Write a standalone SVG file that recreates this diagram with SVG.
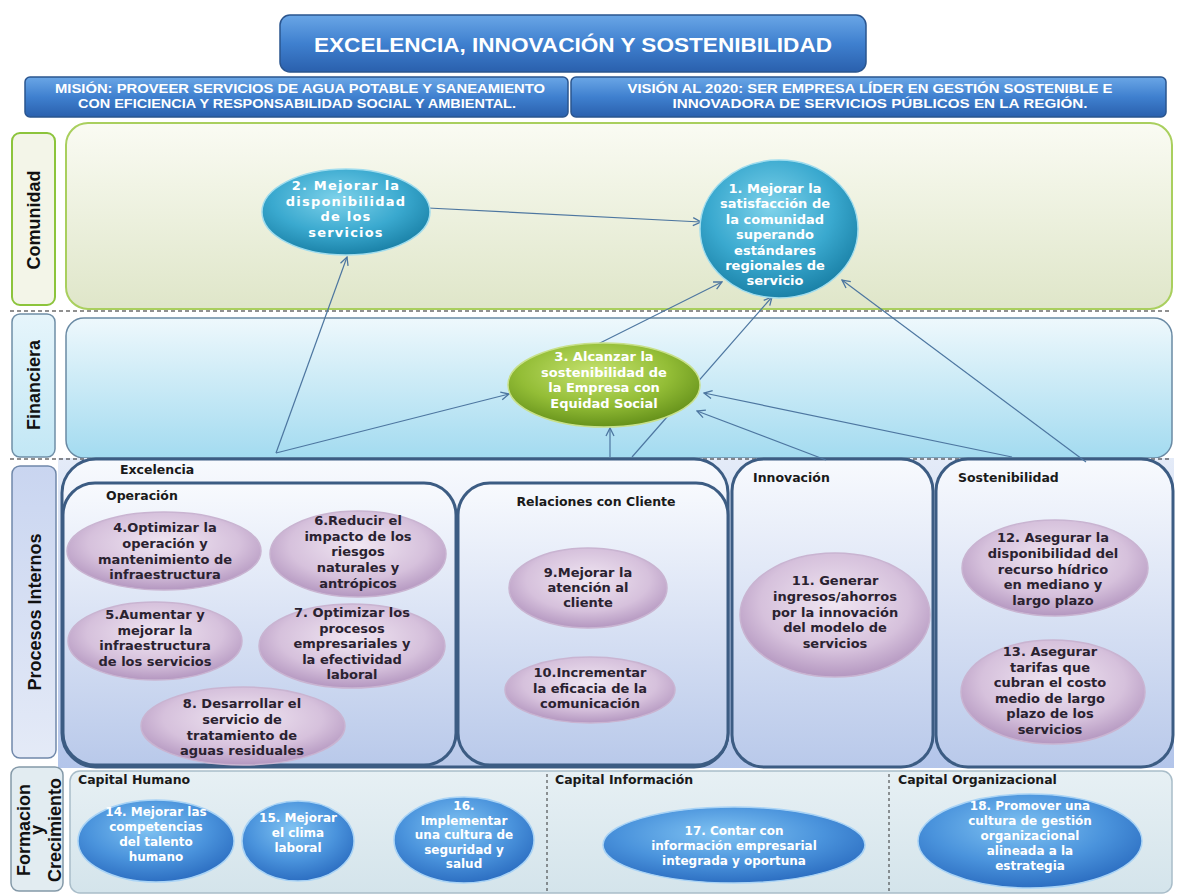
<svg xmlns="http://www.w3.org/2000/svg" width="1178" height="895" viewBox="0 0 1178 895">
  <defs>
    <linearGradient id="gHead" x1="0" y1="0" x2="0" y2="1">
      <stop offset="0" stop-color="#6aa6e6"/>
      <stop offset="0.5" stop-color="#3f80cf"/>
      <stop offset="1" stop-color="#2a60ad"/>
    </linearGradient>
    <linearGradient id="gCom" x1="0" y1="0" x2="0" y2="1">
      <stop offset="0" stop-color="#fafbf3"/>
      <stop offset="1" stop-color="#dfe6c9"/>
    </linearGradient>
    <linearGradient id="gFin" x1="0" y1="0" x2="0" y2="1">
      <stop offset="0" stop-color="#eef8fc"/>
      <stop offset="1" stop-color="#a3dbf0"/>
    </linearGradient>
    <linearGradient id="gFinLab" x1="0" y1="0" x2="0" y2="1">
      <stop offset="0" stop-color="#e6f5fb"/>
      <stop offset="1" stop-color="#c2e7f5"/>
    </linearGradient>
    <linearGradient id="gProcBg" x1="0" y1="0" x2="0" y2="1">
      <stop offset="0" stop-color="#e4ebf8"/>
      <stop offset="1" stop-color="#b3c5ea"/>
    </linearGradient>
    <linearGradient id="gBox" x1="0" y1="0" x2="0" y2="1">
      <stop offset="0" stop-color="#f8fafe"/>
      <stop offset="1" stop-color="#b9c9ea"/>
    </linearGradient>
    <linearGradient id="gProcLab" x1="0" y1="0" x2="0" y2="1">
      <stop offset="0" stop-color="#c9d5f0"/>
      <stop offset="1" stop-color="#e4eaf7"/>
    </linearGradient>
    <linearGradient id="gForm" x1="0" y1="0" x2="0" y2="1">
      <stop offset="0" stop-color="#e7f0f4"/>
      <stop offset="1" stop-color="#d4e4eb"/>
    </linearGradient>
    <radialGradient id="rTeal" cx="0.45" cy="0.35" r="0.65">
      <stop offset="0" stop-color="#7ed2ea"/>
      <stop offset="0.6" stop-color="#3aa9cf"/>
      <stop offset="1" stop-color="#1b82a8"/>
    </radialGradient>
    <radialGradient id="rGreen" cx="0.45" cy="0.35" r="0.65">
      <stop offset="0" stop-color="#c6e270"/>
      <stop offset="0.6" stop-color="#93bd36"/>
      <stop offset="1" stop-color="#66921b"/>
    </radialGradient>
    <radialGradient id="rLav" cx="0.5" cy="0.4" r="0.6">
      <stop offset="0" stop-color="#f0e6f2"/>
      <stop offset="0.65" stop-color="#d6c1dc"/>
      <stop offset="1" stop-color="#b497c0"/>
    </radialGradient>
    <radialGradient id="rBlue" cx="0.45" cy="0.35" r="0.65">
      <stop offset="0" stop-color="#80c3f2"/>
      <stop offset="0.6" stop-color="#4a93dc"/>
      <stop offset="1" stop-color="#2d6fc2"/>
    </radialGradient>
    <marker id="arr" viewBox="0 0 10 10" refX="9" refY="5" markerWidth="10" markerHeight="10" orient="auto" markerUnits="userSpaceOnUse">
      <path d="M1,1 L9,5 L1,9" fill="none" stroke="#4d76a0" stroke-width="1.3"/>
    </marker>
  </defs>
  <style>
    .head { fill:url(#gHead); stroke:#2a558f; stroke-width:1.5; }
    .headTxt { font-family:"Liberation Sans Narrow","Liberation Sans",Arial,sans-serif; font-weight:bold; fill:#ffffff; text-anchor:middle; }
    .title { font-family:"Liberation Sans",Arial,sans-serif; font-weight:bold; fill:#ffffff; text-anchor:middle; }
    .lab { font-family:"Liberation Sans",Arial,sans-serif; font-weight:bold; font-size:18px; fill:#111111; text-anchor:middle; }
    .sec { font-family:"DejaVu Sans",Verdana,sans-serif; font-weight:bold; font-size:12.5px; fill:#1a1a1a; }
    .box { fill:url(#gBox); stroke:#3c5c83; stroke-width:3; }
    .ovL { fill:url(#rLav); stroke:#c9b4d1; stroke-width:1.5; }
    .ovT { fill:url(#rTeal); stroke:#9fdcee; stroke-width:1.5; }
    .ovG { fill:url(#rGreen); stroke:#c8e08a; stroke-width:1.5; }
    .ovB { fill:url(#rBlue); stroke:#a9d3f5; stroke-width:1.5; }
    .dk { font-family:"DejaVu Sans",Verdana,sans-serif; font-weight:bold; font-size:13px; fill:#2a2230; text-anchor:middle; }
    .wt { font-family:"DejaVu Sans",Verdana,sans-serif; font-weight:bold; font-size:13px; fill:#ffffff; text-anchor:middle; }
    .ft { font-family:"DejaVu Sans",Verdana,sans-serif; font-weight:bold; font-size:12px; fill:#ffffff; text-anchor:middle; }
    .cn { fill:none; stroke:#4d76a0; stroke-width:1.2; marker-end:url(#arr); }
    .dash { fill:none; stroke:#222222; stroke-width:1.2; stroke-dasharray:4 3; }
  </style>

  <!-- header -->
  <g id="title">
    <rect class="head" x="280" y="15" width="586" height="57" rx="10"/>
    <text class="title" x="573" y="52" font-size="21" textLength="518" lengthAdjust="spacingAndGlyphs">EXCELENCIA, INNOVACIÓN Y SOSTENIBILIDAD</text>
  </g>
  <g id="mision">
    <rect class="head" x="25" y="77" width="543" height="40" rx="5"/>
    <text class="headTxt" x="300" y="93" font-size="12.5" textLength="490" lengthAdjust="spacingAndGlyphs">MISIÓN: PROVEER SERVICIOS DE AGUA POTABLE Y SANEAMIENTO</text>
    <text class="headTxt" x="297" y="108" font-size="12.5" textLength="438" lengthAdjust="spacingAndGlyphs">CON EFICIENCIA Y RESPONSABILIDAD SOCIAL Y AMBIENTAL.</text>
  </g>
  <g id="vision">
    <rect class="head" x="571" y="77" width="595" height="40" rx="5"/>
    <text class="headTxt" x="870" y="93" font-size="12.5" textLength="485" lengthAdjust="spacingAndGlyphs">VISIÓN AL 2020: SER EMPRESA LÍDER EN GESTIÓN SOSTENIBLE E</text>
    <text class="headTxt" x="880" y="108" font-size="12.5" textLength="415" lengthAdjust="spacingAndGlyphs">INNOVADORA DE SERVICIOS PÚBLICOS EN LA REGIÓN.</text>
  </g>

  <!-- perspective bands -->
  <g id="comunidad">
    <rect x="12" y="133" width="43" height="172" rx="8" fill="#f3f5e8" stroke="#8cc43c" stroke-width="2"/>
    <text class="lab" transform="translate(40,220) rotate(-90)">Comunidad</text>
    <rect x="66" y="123" width="1106" height="186" rx="22" fill="url(#gCom)" stroke="#a9cf5e" stroke-width="2"/>
  </g>
  <g id="financiera">
    <rect x="12" y="314" width="43" height="143" rx="8" fill="url(#gFinLab)" stroke="#6f8ea6" stroke-width="1.5"/>
    <text class="lab" transform="translate(40,385) rotate(-90)">Financiera</text>
    <rect x="66" y="318" width="1106" height="140" rx="18" fill="url(#gFin)" stroke="#6a8aa4" stroke-width="1.5"/>
  </g>
  <g id="procesos">
    <rect x="12" y="466" width="44" height="292" rx="8" fill="url(#gProcLab)" stroke="#7088aa" stroke-width="1.5"/>
    <text class="lab" transform="translate(41,612) rotate(-90)">Procesos Internos</text>
    <rect x="58" y="458" width="1116" height="310" fill="url(#gProcBg)"/>
  </g>
  <g id="formacion">
    <rect x="11" y="767" width="52" height="124" rx="8" fill="#e2ecf1" stroke="#8499a8" stroke-width="1.5"/>
    <text class="lab" font-size="16" transform="translate(30,830) rotate(-90)">Formacion</text>
    <text class="lab" font-size="14" transform="translate(43,830) rotate(-90)">y</text>
    <text class="lab" font-size="11.5" transform="translate(61,830) rotate(-90)">Crecimiento</text>
    <rect x="70" y="771" width="1102" height="122" rx="10" fill="url(#gForm)" stroke="#a9bdc9" stroke-width="1.5"/>
    <line x1="547" y1="774" x2="547" y2="893" stroke="#333" stroke-width="1" stroke-dasharray="3 3"/>
    <line x1="889" y1="774" x2="889" y2="893" stroke="#333" stroke-width="1" stroke-dasharray="3 3"/>
    <text class="sec" x="78" y="784">Capital Humano</text>
    <text class="sec" x="555" y="784">Capital Información</text>
    <text class="sec" x="898" y="784">Capital Organizacional</text>
  </g>

  <!-- band separators -->
  <line class="dash" x1="10" y1="311" x2="1172" y2="311"/>
  <line class="dash" x1="10" y1="459" x2="1172" y2="459"/>

  <!-- internal process containers -->
  <g id="excelencia">
    <rect class="box" x="62" y="459" width="666" height="308" rx="34"/>
    <text class="sec" x="120" y="474">Excelencia</text>
  </g>
  <g id="operacion">
    <rect class="box" x="63" y="483" width="393" height="282" rx="32"/>
    <text class="sec" x="106" y="500">Operación</text>
  </g>
  <g id="relaciones">
    <rect class="box" x="458" y="483" width="270" height="282" rx="32"/>
    <text class="sec" x="596" y="506" text-anchor="middle">Relaciones con Cliente</text>
  </g>
  <g id="innovacion">
    <rect class="box" x="732" y="459" width="201" height="308" rx="32"/>
    <text class="sec" x="753" y="482">Innovación</text>
  </g>
  <g id="sostenibilidad">
    <rect class="box" x="936" y="459" width="237" height="308" rx="32"/>
    <text class="sec" x="958" y="482">Sostenibilidad</text>
  </g>

  <!-- connectors -->
  <g id="connectors">
    <line class="cn" x1="428" y1="208" x2="701" y2="222"/>
    <line class="cn" x1="276" y1="453" x2="347" y2="257"/>
    <line class="cn" x1="276" y1="453" x2="509" y2="394"/>
    <line class="cn" x1="592" y1="347" x2="722" y2="282"/>
    <line class="cn" x1="632" y1="457" x2="772" y2="297"/>
    <line class="cn" x1="610" y1="457" x2="610" y2="428"/>
    <line class="cn" x1="826" y1="460" x2="697" y2="411"/>
    <line class="cn" x1="1012" y1="457" x2="704" y2="393"/>
    <line class="cn" x1="1086" y1="462" x2="842" y2="280"/>
  </g>

  <!-- objectives: community -->
  <g id="obj1">
    <ellipse class="ovT" cx="779" cy="229" rx="79" ry="69"/>
    <text class="wt" x="775" y="193">1. Mejorar la<tspan x="775" dy="15.4">satisfacción de</tspan><tspan x="775" dy="15.4">la comunidad</tspan><tspan x="775" dy="15.4">superando</tspan><tspan x="775" dy="15.4">estándares</tspan><tspan x="775" dy="15.4">regionales de</tspan><tspan x="775" dy="15.4">servicio</tspan></text>
  </g>
  <g id="obj2">
    <ellipse class="ovT" cx="346" cy="212" rx="84" ry="43"/>
    <text class="wt" font-size="12" letter-spacing="1.2" x="346" y="190">2. Mejorar la<tspan x="346" dy="15.5">disponibilidad</tspan><tspan x="346" dy="15.5">de los</tspan><tspan x="346" dy="15.5">servicios</tspan></text>
  </g>
  <!-- objectives: financial -->
  <g id="obj3">
    <ellipse class="ovG" cx="604" cy="385" rx="96" ry="42"/>
    <text class="wt" x="604" y="361">3. Alcanzar la<tspan x="604" dy="15.5">sostenibilidad  de</tspan><tspan x="604" dy="15.5">la Empresa con</tspan><tspan x="604" dy="15.5">Equidad Social</tspan></text>
  </g>

  <!-- objectives: internal processes -->
  <g id="obj4">
    <ellipse class="ovL" cx="164" cy="551" rx="97" ry="39"/>
    <text class="dk" x="165" y="532">4.Optimizar la<tspan x="165" dy="15.8">operación y</tspan><tspan x="165" dy="15.8">mantenimiento de</tspan><tspan x="165" dy="15.8">infraestructura</tspan></text>
  </g>
  <g id="obj6">
    <ellipse class="ovL" cx="358" cy="554" rx="88" ry="43"/>
    <text class="dk" x="358" y="525">6.Reducir el<tspan x="358" dy="15.7">impacto de los</tspan><tspan x="358" dy="15.7">riesgos</tspan><tspan x="358" dy="15.7">naturales y</tspan><tspan x="358" dy="15.7">antrópicos</tspan></text>
  </g>
  <g id="obj5">
    <ellipse class="ovL" cx="155" cy="641" rx="87" ry="39"/>
    <text class="dk" x="155" y="619">5.Aumentar  y<tspan x="155" dy="15.6">mejorar la</tspan><tspan x="155" dy="15.6">infraestructura</tspan><tspan x="155" dy="15.6">de los servicios</tspan></text>
  </g>
  <g id="obj7">
    <ellipse class="ovL" cx="352" cy="646" rx="93" ry="42"/>
    <text class="dk" x="352" y="617">7. Optimizar los<tspan x="352" dy="15.6">procesos</tspan><tspan x="352" dy="15.6">empresariales y</tspan><tspan x="352" dy="15.6">la efectividad</tspan><tspan x="352" dy="15.6">laboral</tspan></text>
  </g>
  <g id="obj8">
    <ellipse class="ovL" cx="243" cy="726" rx="102" ry="39"/>
    <text class="dk" x="242" y="708">8. Desarrollar el<tspan x="242" dy="15.8">servicio de</tspan><tspan x="242" dy="15.8">tratamiento de</tspan><tspan x="242" dy="15.8">aguas residuales</tspan></text>
  </g>
  <g id="obj9">
    <ellipse class="ovL" cx="588" cy="588" rx="79" ry="40"/>
    <text class="dk" x="588" y="577">9.Mejorar la<tspan x="588" dy="15">atención al</tspan><tspan x="588" dy="15">cliente</tspan></text>
  </g>
  <g id="obj10">
    <ellipse class="ovL" cx="590" cy="690" rx="85" ry="33"/>
    <text class="dk" x="590" y="677">10.Incrementar<tspan x="590" dy="15.5">la eficacia de la</tspan><tspan x="590" dy="15.5">comunicación</tspan></text>
  </g>
  <g id="obj11">
    <ellipse class="ovL" cx="835" cy="615" rx="95" ry="62"/>
    <text class="dk" x="835" y="585">11. Generar<tspan x="835" dy="15.8">ingresos/ahorros</tspan><tspan x="835" dy="15.8">por la innovación</tspan><tspan x="835" dy="15.8">del modelo de</tspan><tspan x="835" dy="15.8">servicios</tspan></text>
  </g>
  <g id="obj12">
    <ellipse class="ovL" cx="1055" cy="568" rx="93" ry="48"/>
    <text class="dk" x="1053" y="542">12. Asegurar la<tspan x="1053" dy="15.8">disponibilidad del</tspan><tspan x="1053" dy="15.8">recurso hídrico</tspan><tspan x="1053" dy="15.8">en mediano y</tspan><tspan x="1053" dy="15.8">largo plazo</tspan></text>
  </g>
  <g id="obj13">
    <ellipse class="ovL" cx="1053" cy="692" rx="92" ry="52"/>
    <text class="dk" x="1050" y="656">13. Asegurar<tspan x="1050" dy="15.6">tarifas que</tspan><tspan x="1050" dy="15.6">cubran el costo</tspan><tspan x="1050" dy="15.6">medio de largo</tspan><tspan x="1050" dy="15.6">plazo de los</tspan><tspan x="1050" dy="15.6">servicios</tspan></text>
  </g>

  <!-- objectives: learning and growth -->
  <g id="obj14">
    <ellipse class="ovB" cx="156" cy="841" rx="78" ry="41"/>
    <text class="ft" x="156" y="816">14. Mejorar las<tspan x="156" dy="15">competencias</tspan><tspan x="156" dy="15">del talento</tspan><tspan x="156" dy="15">humano</tspan></text>
  </g>
  <g id="obj15">
    <ellipse class="ovB" cx="298" cy="841" rx="56" ry="40"/>
    <text class="ft" x="298" y="822">15. Mejorar<tspan x="298" dy="15">el clima</tspan><tspan x="298" dy="15">laboral</tspan></text>
  </g>
  <g id="obj16">
    <ellipse class="ovB" cx="464" cy="840" rx="70" ry="43"/>
    <text class="ft" x="464" y="810">16.<tspan x="464" dy="14.6">Implementar</tspan><tspan x="464" dy="14.6">una cultura de</tspan><tspan x="464" dy="14.6">seguridad y</tspan><tspan x="464" dy="14.6">salud</tspan></text>
  </g>
  <g id="obj17">
    <ellipse class="ovB" cx="734" cy="845" rx="131" ry="38"/>
    <text class="ft" font-size="12.5" x="734" y="835">17. Contar con<tspan x="734" dy="15">información empresarial</tspan><tspan x="734" dy="15">integrada y oportuna</tspan></text>
  </g>
  <g id="obj18">
    <ellipse class="ovB" cx="1030" cy="841" rx="112" ry="47"/>
    <text class="ft" font-size="12.5" x="1030" y="810">18. Promover una<tspan x="1030" dy="15">cultura de gestión</tspan><tspan x="1030" dy="15">organizacional</tspan><tspan x="1030" dy="15">alineada a la</tspan><tspan x="1030" dy="15">estrategia</tspan></text>
  </g>
</svg>
